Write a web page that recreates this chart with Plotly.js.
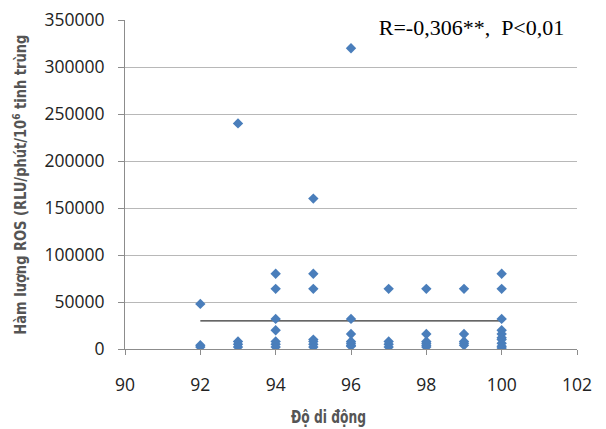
<!DOCTYPE html>
<html>
<head>
<meta charset="utf-8">
<script src="https://cdn.plot.ly/plotly-3.0.1.min.js"></script>
<style>html,body{margin:0;padding:0;background:#fff;}#chart{width:606px;height:429px;}</style>
</head>
<body>
<div id="chart"></div>
<script>
// Data
const motility = [
  92, 92, 92,
  93, 93, 93, 93,
  94, 94, 94, 94, 94, 94, 94,
  95, 95, 95, 95, 95, 95, 95,
  96, 96, 96, 96, 96, 96, 96,
  97, 97, 97, 97,
  98, 98, 98, 98, 98, 98,
  99, 99, 99, 99, 99,
  100, 100, 100, 100, 100, 100, 100, 100, 100, 100
];
const ros = [
  48000, 4000, 2000,
  240000, 8000, 5000, 2000,
  80000, 64000, 32000, 20000, 8000, 5000, 2000,
  160000, 80000, 64000, 10000, 8000, 5000, 2000,
  320000, 32000, 16000, 8000, 6000, 4000, 3000,
  64000, 8000, 5000, 2000,
  64000, 16000, 8000, 6000, 4000, 2000,
  64000, 16000, 8000, 6000, 4000,
  80000, 64000, 32000, 20000, 16000, 12000, 10000, 6000, 3000, 1000
];
const trendX = [92, 100];
const trendY = [30000, 30000];
const xTicks = [90, 92, 94, 96, 98, 100, 102];
const yTicks = [0, 50000, 100000, 150000, 200000, 250000, 300000, 350000];

const traces = [
  {
    x: trendX, y: trendY, type: 'scatter', mode: 'lines',
    line: {color: '#333333', width: 1.3}, hoverinfo: 'skip'
  },
  {
    x: motility, y: ros, type: 'scatter', mode: 'markers',
    marker: {symbol: 'diamond', size: 8, color: '#4A7EBB', line: {width: 0}}
  }
];

const tickFont = {family: 'Open Sans, sans-serif', size: 17.5, color: '#222'};
const titleFamily = 'DejaVu Sans Condensed, DejaVu Sans, sans-serif';

const layout = {
  width: 606, height: 429,
  margin: {l: 125, r: 29, t: 20, b: 80},
  paper_bgcolor: '#ffffff', plot_bgcolor: '#ffffff',
  showlegend: false,
  font: {family: 'Open Sans, sans-serif', size: 15, color: '#222'},
  xaxis: {
    range: [90, 102], tickvals: xTicks, ticktext: xTicks.map(String),
    showgrid: false, zeroline: false,
    showline: true, linecolor: '#8c8c8c', linewidth: 1,
    ticks: 'outside', ticklen: 5, tickcolor: '#8c8c8c',
    ticklabelstandoff: 15,
    tickfont: tickFont,
    fixedrange: true
  },
  yaxis: {
    range: [0, 350000], tickvals: yTicks, ticktext: yTicks.map(String),
    showgrid: true, gridcolor: '#b8b8b8', gridwidth: 1, zeroline: false,
    showline: true, linecolor: '#8c8c8c', linewidth: 1,
    ticks: 'outside', ticklen: 6, tickcolor: '#8c8c8c',
    ticklabelstandoff: 10,
    tickfont: tickFont,
    fixedrange: true
  },
  annotations: [
    {
      xref: 'paper', yref: 'paper', x: 1, y: 1.0, xanchor: 'right', yanchor: 'middle', yshift: -7, xshift: 4,
      text: 'R=-0,306**,  P&lt;0,01', showarrow: false,
      font: {family: 'Liberation Serif, Times New Roman, serif', size: 22, color: '#000'},
      bgcolor: '#ffffff', borderpad: 6, width: 205, align: 'center'
    },
    {
      xref: 'paper', yref: 'paper', x: (328 - 125) / 452, y: -0.205, xanchor: 'center', yanchor: 'middle',
      text: 'Độ di động', showarrow: false,
      font: {family: titleFamily, size: 18, color: '#555', weight: 'bold'}
    },
    {
      xref: 'paper', yref: 'paper', x: (20 - 125) / 452, y: (349 - 185) / 329, xanchor: 'center', yanchor: 'middle',
      textangle: -90,
      text: 'Hàm lượng ROS (RLU/phút/10<sup>6</sup> tinh trùng', showarrow: false,
      font: {family: titleFamily, size: 15, color: '#555', weight: 'bold'}
    }
  ]
};

// horizontally condense the axis titles to mimic the narrow font of the reference
const targetLen = [null, 75, 300];
Plotly.newPlot('chart', traces, layout, {displayModeBar: false, staticPlot: true}).then(function () {
  document.querySelectorAll('.annotation-text').forEach(function (t, i) {
    if (targetLen[i]) {
      t.setAttribute('textLength', targetLen[i]);
      t.setAttribute('lengthAdjust', 'spacingAndGlyphs');
    }
  });
});
</script>
</body>
</html>
